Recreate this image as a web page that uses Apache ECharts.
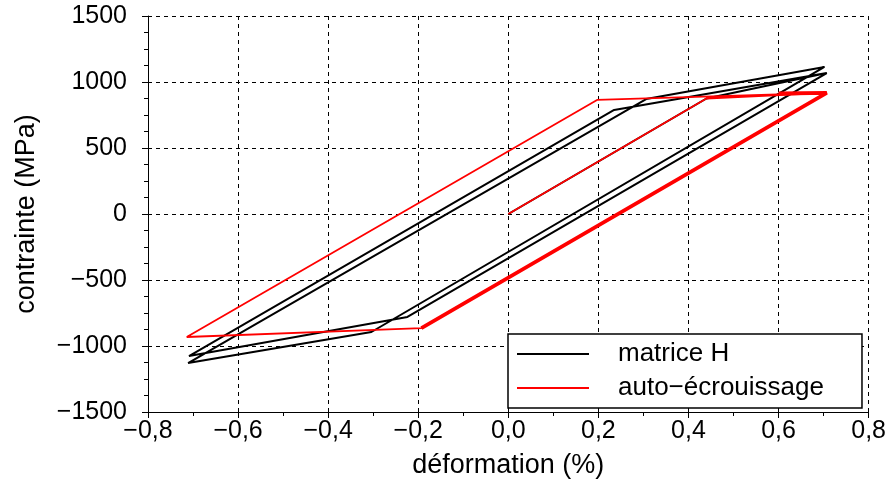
<!DOCTYPE html>
<html>
<head>
<meta charset="utf-8">
<script src="https://cdn.jsdelivr.net/npm/echarts@6/dist/echarts.min.js"></script>
<style>html,body{margin:0;padding:0;background:#fff;}#c{width:889px;height:485px;}</style>
</head>
<body>
<div id="c"></div>
<script>
// strain (%) and stress (MPa) (null = break between the two loops)
const matriceH_eps = [0, 0.44, 0.707, -0.224, -0.709, 0.235, 0.707, null, 0.702, -0.304, -0.711, 0.306, 0.702];
const matriceH_sig = [0, 875, 1068, -780, -1076, 788, 1068, null, 1114, -894, -1129, 871, 1114];
const auto_eps = [0, 0.44, 0.707, -0.193, -0.714, 0.197, 0.707, -0.193];
const auto_sig = [0, 875, 917, -864, -932, 864, 917, -864];
// repeated (overlapping) unloading cycles of the auto-écrouissage curve
const autoRepeat_eps = [0.60, 0.707, -0.193];
const autoRepeat_sig = [913, 917, -864];
const seriesNames = ['matrice H', 'auto\u2212\u00e9crouissage'];

const pair = (xs, ys) => xs.map((x, i) => (x === null ? null : [x, ys[i]]));
const fmtNum = (v, d) => {
  if (Math.abs(v) < 1e-9) v = 0;
  return v.toFixed(d).replace('.', ',').replace('-', '\u2212');
};
const FONT = 'Liberation Sans';

const chart = echarts.init(document.getElementById('c'), null, {renderer: 'canvas'});
chart.setOption({
  backgroundColor: '#ffffff',
  animation: false,
  grid: {left: 148, right: 19, top: 16, bottom: 73, containLabel: false},
  legend: {
    orient: 'vertical',
    left: 508, top: 334,
    data: seriesNames,
    icon: 'rect',
    itemWidth: 72, itemHeight: 2,
    itemGap: 8,
    padding: [7, 38, 7, 9],
    backgroundColor: '#ffffff',
    borderColor: '#000000',
    borderWidth: 1.5,
    borderRadius: 0,
    textStyle: {fontFamily: FONT, fontSize: 26, color: '#000', lineHeight: 26, padding: [0, 0, 0, 24]}
  },
  xAxis: {
    type: 'value', min: -0.8, max: 0.8, interval: 0.2,
    name: 'déformation (%)', nameLocation: 'middle', nameGap: 40,
    nameTextStyle: {fontFamily: FONT, fontSize: 27, color: '#000'},
    axisLine: {onZero: false, lineStyle: {color: '#000', width: 1}},
    axisTick: {show: true, inside: false, length: 6, lineStyle: {color: '#000'}},
    minorTick: {show: true, splitNumber: 2, length: 4, lineStyle: {color: '#000'}},
    axisLabel: {fontFamily: FONT, fontSize: 25, color: '#000', margin: 7, formatter: v => fmtNum(v, 1)},
    splitLine: {show: true, lineStyle: {color: '#000', width: 1, type: [4, 4]}}
  },
  yAxis: {
    type: 'value', min: -1500, max: 1500, interval: 500,
    name: 'contrainte (MPa)', nameLocation: 'middle', nameGap: 108, nameRotate: 90,
    nameTextStyle: {fontFamily: FONT, fontSize: 27, color: '#000'},
    axisLine: {onZero: false, lineStyle: {color: '#000', width: 1}},
    axisTick: {show: true, inside: false, length: 6, lineStyle: {color: '#000'}},
    minorTick: {show: true, splitNumber: 4, length: 4, lineStyle: {color: '#000'}},
    axisLabel: {fontFamily: FONT, fontSize: 25, color: '#000', margin: 21, formatter: v => fmtNum(v, 0)},
    splitLine: {show: true, lineStyle: {color: '#000', width: 1, type: [4, 4]}}
  },
  series: [
    {
      name: seriesNames[0], type: 'line', data: pair(matriceH_eps, matriceH_sig),
      connectNulls: false,
      symbol: 'none', color: '#000000', lineStyle: {color: '#000000', width: 2}, z: 2
    },
    {
      name: seriesNames[1], type: 'line', data: pair(auto_eps, auto_sig),
      symbol: 'none', color: '#ff0000', lineStyle: {color: '#ff0000', width: 1.8}, z: 3
    },
    {
      name: seriesNames[1], type: 'line', data: pair(autoRepeat_eps, autoRepeat_sig),
      symbol: 'none', color: '#ff0000', lineStyle: {color: '#ff0000', width: 3.8}, z: 3
    }
  ]
});
</script>
</body>
</html>
